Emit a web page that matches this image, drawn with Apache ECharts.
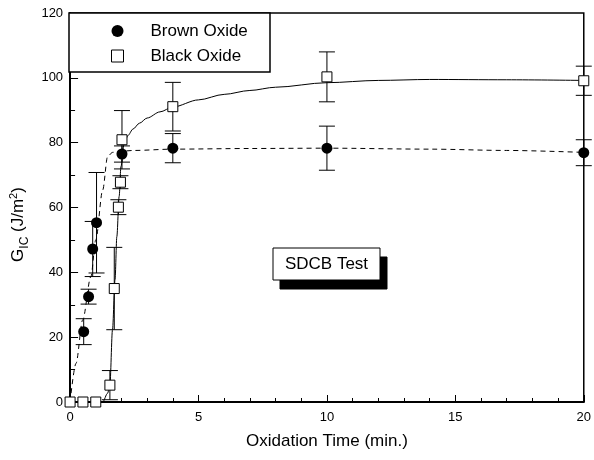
<!DOCTYPE html>
<html>
<head>
<meta charset="utf-8">
<script src="https://cdn.jsdelivr.net/npm/echarts@6/dist/echarts.min.js"></script>
<style>
  html, body { margin: 0; padding: 0; background: #fff; }
  #main { width: 594px; height: 460px; }
</style>
</head>
<body>
<div id="main"></div>
<script type="text/javascript">
// measured points (x = min, y = J/m2, err = +/-)
var brownX = [0.53, 0.72, 0.88, 1.03, 2.02, 4, 10, 20];
var brownY = [21.7, 32.5, 47.2, 55.3, 76.5, 78.3, 78.3, 76.9];
var brownErr = [4, 2.3, 8.5, 15.5, 2.5, 4.5, 6.8, 4];

var blackX = [0, 0.5, 1.0, 1.55, 1.72, 1.88, 1.96, 2.02, 4, 10, 20];
var blackY = [0, 0, 0, 5.2, 35, 60.1, 67.8, 80.9, 91.1, 100.3, 99.1];
var blackErr = [0, 0, 0, 4.5, 12.7, 2.3, 2, 9, 7.5, 7.7, 4.5];

// fitted curves
var brownFitX = [0, 0.23, 0.49, 0.81, 1.0, 1.27, 1.46, 1.65, 1.85, 2.5, 4, 7, 10, 14, 17, 20];
var brownFitY = [0, 11.9, 25.3, 38.7, 50, 65.4, 75.7, 77, 77.3, 77.6, 78, 78.2, 78.3, 78, 77.6, 77];
var blackFitX = [0, 0.6, 1.27, 1.46, 1.55, 1.65, 1.75, 1.82, 1.91, 1.98, 2.1, 2.25, 2.45, 2.7, 3, 3.5, 4, 5, 6, 7, 8, 10, 12, 14, 17, 20];
var blackFitY = [0, 0, 0, 2.7, 5.2, 22.2, 37.7, 51, 63.4, 72.6, 79.5, 82.2, 84.2, 86, 87.6, 89.5, 91, 93.2, 94.9, 96.1, 97.1, 98.5, 99.2, 99.5, 99.4, 99.2];

var xTicks = [0, 5, 10, 15, 20];
var yTicks = [0, 20, 40, 60, 80, 100, 120];

function pairs(xs, ys) {
    return xs.map(function (x, i) { return [x, ys[i]]; });
}
function errData(xs, ys, es) {
    var out = [];
    xs.forEach(function (x, i) {
        if (es[i] > 0) out.push([x, ys[i] - es[i], ys[i] + es[i]]);
    });
    return out;
}
function errRender(params, api) {
    var x = api.value(0);
    var lo = api.coord([x, api.value(1)]);
    var hi = api.coord([x, api.value(2)]);
    var w = 8;
    var st = { stroke: '#000', lineWidth: 1 };
    return {
        type: 'group',
        children: [
            { type: 'line', shape: { x1: lo[0], y1: lo[1], x2: hi[0], y2: hi[1] }, style: st },
            { type: 'line', shape: { x1: lo[0] - w, y1: lo[1], x2: lo[0] + w, y2: lo[1] }, style: st },
            { type: 'line', shape: { x1: hi[0] - w, y1: hi[1], x2: hi[0] + w, y2: hi[1] }, style: st }
        ]
    };
}

var font = '"Liberation Sans", Arial, Helvetica, sans-serif';
var chart = echarts.init(document.getElementById('main'));

var option = {
    animation: false,
    backgroundColor: '#fff',
    textStyle: { fontFamily: font, color: '#000' },
    grid: {
        left: 69, right: 9, top: 13, bottom: 58,
        show: true, borderColor: '#000', borderWidth: 1.5
    },
    xAxis: {
        type: 'value', min: 0, max: 20, interval: 5,
        name: 'Oxidation Time (min.)',
        nameLocation: 'middle', nameGap: 31,
        nameTextStyle: { fontSize: 17, fontFamily: font, color: '#000' },
        axisLine: { lineStyle: { color: '#000', width: 2 } },
        axisTick: { inside: true, length: 7, lineStyle: { color: '#000', width: 1 } },
        minorTick: { show: true, splitNumber: 5, length: 4, lineStyle: { color: '#000', width: 1 } },
        axisLabel: {
            margin: 9, fontSize: 13, fontFamily: font, color: '#000',
            formatter: function (v) { return xTicks.indexOf(v) >= 0 ? String(v) : ''; }
        },
        splitLine: { show: false }
    },
    yAxis: {
        type: 'value', min: 0, max: 120, interval: 20,
        name: '{g|G}{sub|IC}{g| (J/m}{sup|2}{g|)}',
        nameLocation: 'middle', nameGap: 38, nameRotate: 90,
        nameTextStyle: {
            fontFamily: font, color: '#000',
            padding: [0, 34, 0, 0],
            rich: {
                g: { fontSize: 17, fontFamily: font, color: '#000', verticalAlign: 'middle' },
                sub: { fontSize: 12, fontFamily: font, color: '#000', padding: [12, 0, 0, 0] },
                sup: { fontSize: 11, fontFamily: font, color: '#000', padding: [0, 0, 10, 0] }
            }
        },
        axisLine: { lineStyle: { color: '#000', width: 2 } },
        axisTick: { inside: true, length: 8, lineStyle: { color: '#000', width: 1 } },
        minorTick: { show: true, splitNumber: 2, length: 5, lineStyle: { color: '#000', width: 1 } },
        axisLabel: {
            margin: 7, fontSize: 13, fontFamily: font, color: '#000',
            formatter: function (v) { return yTicks.indexOf(v) >= 0 ? String(v) : ''; }
        },
        splitLine: { show: false }
    },
    legend: {
        orient: 'vertical',
        left: 111, top: 22,
        z: 10,
        itemWidth: 12, itemHeight: 12, itemGap: 7,
        padding: 0,
        textStyle: { fontSize: 17, fontFamily: font, color: '#000', padding: [0, 0, 0, 22], lineHeight: 18 },
        data: [
            { name: 'Brown Oxide', icon: 'circle' },
            { name: 'Black Oxide', icon: 'rect', itemStyle: { color: '#fff', borderColor: '#000', borderWidth: 1 } }
        ]
    },
    graphic: [
        {
            type: 'rect', z: 5,
            shape: { x: 69, y: 13, width: 201, height: 59 },
            style: { fill: '#fff', stroke: '#000', lineWidth: 1.5 }
        },
        {
            type: 'rect', z: 5,
            shape: { x: 280, y: 257, width: 107, height: 32 },
            style: { fill: '#000', stroke: '#000', lineWidth: 1 }
        },
        {
            type: 'rect', z: 6,
            shape: { x: 273, y: 248, width: 107, height: 32 },
            style: { fill: '#fff', stroke: '#000', lineWidth: 1 }
        },
        {
            type: 'text', z: 7,
            x: 326.5, y: 264,
            style: {
                text: 'SDCB Test', fontSize: 17, fontFamily: font, fill: '#000',
                align: 'center', verticalAlign: 'middle'
            }
        }
    ],
    series: [
        {
            name: 'brownFit', type: 'line', data: pairs(brownFitX, brownFitY),
            smooth: 0.3, smoothMonotone: 'x', showSymbol: false, symbol: 'none',
            lineStyle: { color: '#000', width: 1, type: [5, 4] },
            silent: true, z: 2
        },
        {
            name: 'blackFit', type: 'line', data: pairs(blackFitX, blackFitY),
            smooth: 0.3, smoothMonotone: 'x', showSymbol: false, symbol: 'none',
            lineStyle: { color: '#000', width: 1 },
            silent: true, z: 2
        },
        {
            name: 'brownErr', type: 'custom', renderItem: errRender,
            data: errData(brownX, brownY, brownErr), clip: false, z: 3
        },
        {
            name: 'blackErr', type: 'custom', renderItem: errRender,
            data: errData(blackX, blackY, blackErr), clip: false, z: 3
        },
        {
            name: 'Brown Oxide', type: 'scatter', data: pairs(brownX, brownY),
            symbol: 'circle', symbolSize: 11, clip: false,
            itemStyle: { color: '#000', opacity: 1 }, z: 4
        },
        {
            name: 'Black Oxide', type: 'scatter', data: pairs(blackX, blackY),
            symbol: 'rect', symbolSize: 10, clip: false,
            itemStyle: { color: '#fff', borderColor: '#000', borderWidth: 1, opacity: 1 }, z: 5
        }
    ]
};
chart.setOption(option);
</script>
</body>
</html>
